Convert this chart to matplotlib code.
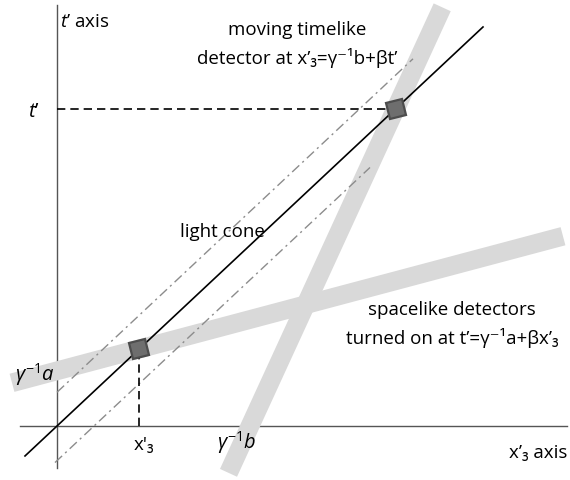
import matplotlib
matplotlib.use("Agg")
import matplotlib.pyplot as plt
import numpy as np
from matplotlib.markers import MarkerStyle
from matplotlib.transforms import Affine2D

plt.rcParams['font.family'] = ['Open Sans', 'DejaVu Sans']
plt.rcParams['mathtext.fontset'] = 'custom'
plt.rcParams['mathtext.rm'] = 'Open Sans'
plt.rcParams['mathtext.it'] = 'Open Sans:italic'

# diagram geometry (units: light cone is t' = x')
light_x = [-0.32, 4.26]
cone_offsets = [0.36, -0.37]           # dash-dot parallels
cone_x_ranges = [[0.0, 3.56], [-0.02, 3.13]]

space_a = 0.589       # gamma^-1 a  (t' intercept)
space_beta = 0.284    # slope of spacelike detectors
space_x = [-0.45, 5.06]

time_b = 1.93         # gamma^-1 b  (x' intercept)
time_beta = 0.43      # slope of moving detector
time_t = [-0.50, 4.47]

x_axis = [-0.37, 5.10]
t_axis = [-0.45, 4.49]

BAND = '#d9d9d9'

fig = plt.figure(figsize=(5.7, 4.8), dpi=100)
ax = fig.add_axes([0, 0, 1, 1])
ax.set_xlim(-0.57, 5.13)
ax.set_ylim(-0.5765, 4.548)
ax.axis('off')

# axes
ax.plot(x_axis, [0, 0], color='#555555', lw=1.0, zorder=1)
ax.plot([0, 0], t_axis, color='#555555', lw=1.0, zorder=1)

# detector bands
sx = np.array(space_x)
ax.plot(sx, space_a + space_beta * sx, color=BAND, lw=13.5,
        solid_capstyle='butt', zorder=2)
tt = np.array(time_t)
ax.plot(time_b + time_beta * tt, tt, color=BAND, lw=13.5,
        solid_capstyle='butt', zorder=2)

# light cone and its dash-dot neighbours
ax.plot(light_x, light_x, color='black', lw=1.2, zorder=4)
for off, xr in zip(cone_offsets, cone_x_ranges):
    xr = np.array(xr)
    ax.plot(xr, xr + off, color='#8c8c8c', lw=1.0, zorder=3,
            dashes=(7, 3, 1.5, 3))

# events where detectors meet the light cone
ev1 = space_a / (1 - space_beta)
ev2 = time_b / (1 - time_beta)

ax.plot([ev1, ev1], [0, ev1], color='black', lw=1.2, dashes=(5, 3), zorder=3)
ax.plot([0, ev2], [ev2, ev2], color='black', lw=1.2, dashes=(5, 3), zorder=3)

sq = MarkerStyle('s', transform=Affine2D().rotate_deg(15))
ax.plot([ev1, ev2], [ev1, ev2], ls='none', marker=sq, ms=12,
        mfc='#6e6e6e', mec='#4d4d4d', mew=1.6, zorder=5)

# text
fs = 13.5
ax.text(0.03, 4.31, "$t$\u2019 axis", fontsize=fs, ha='left', va='center')
ax.text(2.40, 4.228, "moving timelike", fontsize=fs, ha='center', va='center')
ax.text(2.40, 3.929, "detector at x\u2019\u2083=\u03b3\u207b\u00b9b+\u03b2t\u2019",
        fontsize=fs, ha='center', va='center')
ax.text(-0.17, ev2 - 0.03, "$t$\u2019", fontsize=fs + 1, ha='right', va='center')
ax.text(1.65, 2.071, "light cone", fontsize=fs, ha='center', va='center')
ax.text(3.95, 1.238, "spacelike detectors", fontsize=fs, ha='center', va='center')
ax.text(3.95, 0.939, "turned on at t\u2019=\u03b3\u207b\u00b9a+\u03b2x\u2019\u2083",
        fontsize=fs, ha='center', va='center')
ax.text(-0.42, 0.544, r"$\gamma^{-1}a$", fontsize=fs + 1, ha='left', va='center')
ax.text(ev1 + 0.05, -0.203, "x'\u2083", fontsize=fs, ha='center', va='center')
ax.text(1.80, -0.18, r"$\gamma^{-1}b$", fontsize=fs + 1, ha='center', va='center')
ax.text(5.10, -0.288, "x\u2019\u2083 axis", fontsize=fs, ha='right', va='center')

fig.savefig("out.png", dpi=100)
